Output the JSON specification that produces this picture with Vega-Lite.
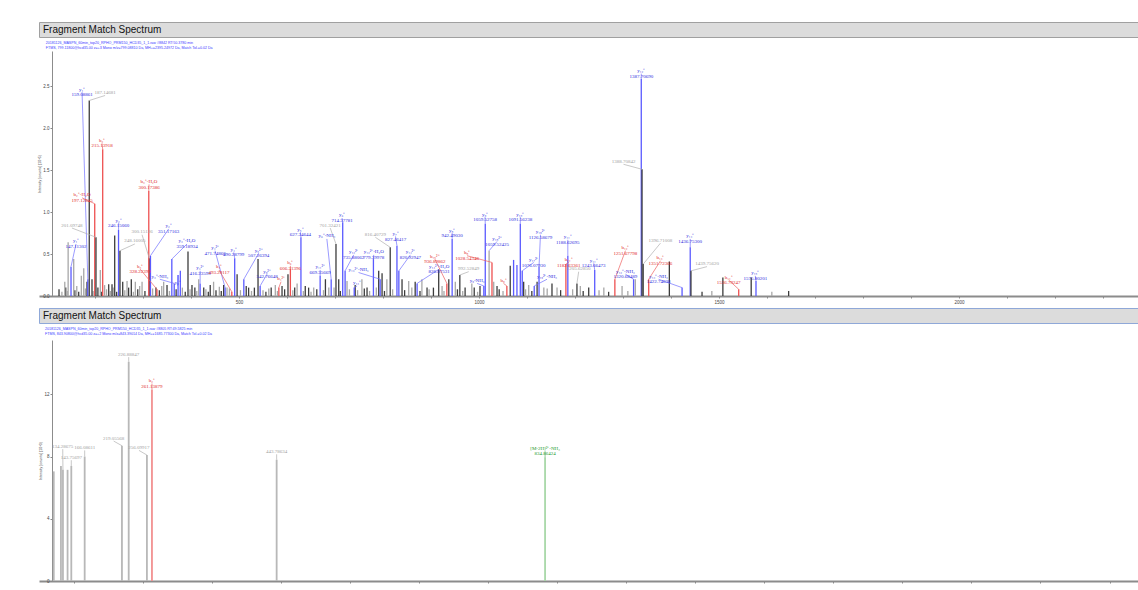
{
"$schema": "https://vega.github.io/schema/vega-lite/v6.json",
"padding": {"left": 37, "top": 21, "right": 0, "bottom": 0},
"background": "#ffffff",
"spacing": 3,
"config": {
  "view": {"stroke": null},
  "axis": {"grid": false, "labelFont": "Liberation Sans", "titleFont": "Liberation Sans", "titleFontWeight": "normal", "labelColor": "#444444", "titleColor": "#444444", "tickColor": "#888888", "domainColor": "#8c8c8c", "labelOverlap": false}
},
"vconcat": [
  {
    "width": 1101, "height": 15,
    "data": {"values": [{"t": "Fragment Match Spectrum"}]},
    "mark": {"type": "text", "align": "left", "baseline": "middle", "dx": 4, "dy": 0.5, "font": "Liberation Sans", "fontSize": 10, "color": "#111111"},
    "encoding": {
      "x": {"field": "t", "type": "nominal", "scale": {"type": "point", "padding": 0, "align": 0}, "axis": null},
      "text": {"field": "t"}
    },
    "view": {"fill": "#dcdcdc", "stroke": "#a0a0a0"}
  },
  {
    "width": 1101, "height": 245,
    "title": {"text": "20181126_MASPN_60min_top20_RPHO_PRM150_HCD35_1_1.raw #8842 RT:50.3780 min", "subtitle": "FTMS, 799.11800@hcd35.00 z=+3 Mono m/z=799.08810 Da, MH+=2395.24972 Da, Match Tol.=0.02 Da", "anchor": "start", "frame": "bounds", "dx": 8, "offset": 1, "font": "Liberation Sans", "subtitleFont": "Liberation Sans", "fontSize": 3.6, "subtitleFontSize": 3.6, "fontWeight": "normal", "color": "#3a3aff", "subtitleColor": "#3a3aff", "subtitlePadding": 1.5},
    "data": {"values": [
      {"mz":125,"h":0.08,"c":"k"},{"mz":131,"h":0.05,"c":"g"},{"mz":139,"h":0.1,"c":"k"},{"mz":142,"h":0.06,"c":"g"},{"mz":158,"h":0.07,"c":"k"},{"mz":162,"h":0.12,"c":"g"},{"mz":166,"h":0.05,"c":"k"},{"mz":180,"h":0.09,"c":"g"},{"mz":196,"h":0.06,"c":"g"},{"mz":206,"h":0.1,"c":"k"},{"mz":213,"h":0.05,"c":"k"},{"mz":224,"h":0.08,"c":"g"},{"mz":232,"h":0.06,"c":"g"},{"mz":238,"h":0.1,"c":"g"},{"mz":245,"h":0.05,"c":"k"},{"mz":262,"h":0.07,"c":"g"},{"mz":270,"h":0.1,"c":"k"},{"mz":280,"h":0.05,"c":"g"},{"mz":289,"h":0.08,"c":"k"},{"mz":293,"h":0.12,"c":"g"},{"mz":304,"h":0.06,"c":"k"},{"mz":320,"h":0.09,"c":"g"},{"mz":334,"h":0.07,"c":"k"},{"mz":339,"h":0.12,"c":"g"},{"mz":355,"h":0.06,"c":"g"},{"mz":369,"h":0.08,"c":"k"},{"mz":382,"h":0.1,"c":"g"},{"mz":388,"h":0.05,"c":"k"},{"mz":398,"h":0.08,"c":"g"},{"mz":408,"h":0.1,"c":"k"},{"mz":412,"h":0.06,"c":"g"},{"mz":431,"h":0.08,"c":"g"},{"mz":436,"h":0.05,"c":"k"},{"mz":452,"h":0.07,"c":"k"},{"mz":459,"h":0.11,"c":"g"},{"mz":463,"h":0.06,"c":"k"},{"mz":480,"h":0.09,"c":"g"},{"mz":503,"h":0.07,"c":"g"},{"mz":515,"h":0.12,"c":"k"},{"mz":526,"h":0.06,"c":"g"},{"mz":532,"h":0.1,"c":"k"},{"mz":550,"h":0.07,"c":"g"},{"mz":556,"h":0.05,"c":"k"},{"mz":562,"h":0.09,"c":"g"},{"mz":580,"h":0.06,"c":"g"},{"mz":595,"h":0.08,"c":"k"},{"mz":612,"h":0.07,"c":"g"},{"mz":616,"h":0.1,"c":"k"},{"mz":634,"h":0.06,"c":"g"},{"mz":645,"h":0.1,"c":"k"},{"mz":650,"h":0.05,"c":"g"},{"mz":662,"h":0.08,"c":"k"},{"mz":676,"h":0.07,"c":"g"},{"mz":698,"h":0.1,"c":"g"},{"mz":711,"h":0.06,"c":"k"},{"mz":730,"h":0.08,"c":"g"},{"mz":747,"h":0.07,"c":"g"},{"mz":761,"h":0.09,"c":"k"},{"mz":772,"h":0.06,"c":"g"},{"mz":786,"h":0.1,"c":"g"},{"mz":803,"h":0.06,"c":"k"},{"mz":820,"h":0.08,"c":"g"},{"mz":845,"h":0.07,"c":"k"},{"mz":860,"h":0.1,"c":"g"},{"mz":877,"h":0.06,"c":"k"},{"mz":896,"h":0.08,"c":"g"},{"mz":905,"h":0.1,"c":"k"},{"mz":927,"h":0.06,"c":"g"},{"mz":955,"h":0.08,"c":"k"},{"mz":966,"h":0.06,"c":"g"},{"mz":990,"h":0.1,"c":"k"},{"mz":997,"h":0.05,"c":"g"},{"mz":1042,"h":0.08,"c":"k"},{"mz":1050,"h":0.06,"c":"g"},{"mz":1097,"h":0.08,"c":"g"},{"mz":1110,"h":0.06,"c":"k"},{"mz":1142,"h":0.09,"c":"g"},{"mz":1170,"h":0.07,"c":"k"},{"mz":1195,"h":0.08,"c":"g"},{"mz":1217,"h":0.06,"c":"k"},{"mz":1250,"h":0.07,"c":"g"},{"mz":1270,"h":0.05,"c":"k"},{"mz":1310,"h":0.06,"c":"g"},
      {"mz":137,"h":0.17,"c":"g"},{"mz":144,"h":0.64,"c":"g"},{"mz":155.6,"h":0.44,"c":"g"},{"mz":171.5,"h":0.24,"c":"g"},{"mz":176.5,"h":0.33,"c":"g"},{"mz":183.3,"h":0.17,"c":"k"},{"mz":193.7,"h":0.2,"c":"k"},{"mz":211,"h":0.31,"c":"g"},{"mz":220,"h":0.13,"c":"g"},{"mz":228.5,"h":0.14,"c":"k"},{"mz":235.4,"h":0.14,"c":"k"},{"mz":241,"h":0.72,"c":"k"},{"mz":257.7,"h":0.17,"c":"k"},{"mz":266.7,"h":0.18,"c":"g"},{"mz":275.6,"h":0.2,"c":"k"},{"mz":284,"h":0.17,"c":"g"},{"mz":298,"h":0.17,"c":"g"},{"mz":327,"h":0.1,"c":"k"},{"mz":343,"h":0.17,"c":"g"},{"mz":350,"h":0.13,"c":"k"},{"mz":377.7,"h":0.3,"c":"b"},{"mz":393.7,"h":0.53,"c":"k"},{"mz":402,"h":0.13,"c":"k"},{"mz":416,"h":0.2,"c":"g"},{"mz":426.5,"h":0.1,"c":"k"},{"mz":440,"h":0.13,"c":"k"},{"mz":447,"h":0.17,"c":"g"},{"mz":468,"h":0.13,"c":"k"},{"mz":475,"h":0.1,"c":"g"},{"mz":496,"h":0.26,"c":"k"},{"mz":520,"h":0.1,"c":"k"},{"mz":539.6,"h":0.44,"c":"k"},{"mz":567,"h":0.1,"c":"k"},{"mz":575.6,"h":0.13,"c":"g"},{"mz":589.6,"h":0.12,"c":"k"},{"mz":602,"h":0.26,"c":"k"},{"mz":621,"h":0.15,"c":"g"},{"mz":638,"h":0.12,"c":"k"},{"mz":655.6,"h":0.1,"c":"g"},{"mz":680,"h":0.2,"c":"k"},{"mz":687,"h":0.1,"c":"g"},{"mz":707.7,"h":0.2,"c":"k"},{"mz":725,"h":0.18,"c":"g"},{"mz":742,"h":0.13,"c":"k"},{"mz":756,"h":0.2,"c":"g"},{"mz":766.7,"h":0.1,"c":"k"},{"mz":791,"h":0.3,"c":"k"},{"mz":798,"h":0.27,"c":"k"},{"mz":808,"h":0.2,"c":"g"},{"mz":839.6,"h":0.2,"c":"k"},{"mz":853.5,"h":0.18,"c":"g"},{"mz":867,"h":0.17,"c":"k"},{"mz":881,"h":0.2,"c":"g"},{"mz":891.7,"h":0.1,"c":"k"},{"mz":916,"h":0.32,"c":"k"},{"mz":923,"h":0.12,"c":"g"},{"mz":937,"h":0.2,"c":"k"},{"mz":950.6,"h":0.17,"c":"g"},{"mz":971,"h":0.1,"c":"k"},{"mz":985,"h":0.15,"c":"g"},{"mz":1002,"h":0.12,"c":"k"},{"mz":1030.6,"h":0.17,"c":"g"},{"mz":1037.5,"h":0.12,"c":"k"},{"mz":1065,"h":0.36,"c":"k"},{"mz":1072,"h":0.43,"c":"b"},{"mz":1079,"h":0.37,"c":"b"},{"mz":1093,"h":0.17,"c":"k"},{"mz":1103.5,"h":0.13,"c":"g"},{"mz":1121,"h":0.17,"c":"k"},{"mz":1135,"h":0.1,"c":"g"},{"mz":1152,"h":0.15,"c":"k"},{"mz":1162.5,"h":0.1,"c":"g"},{"mz":1211,"h":0.12,"c":"g"},{"mz":1228.5,"h":0.1,"c":"k"},{"mz":1260,"h":0.1,"c":"g"},{"mz":1298,"h":0.12,"c":"g"},{"mz":1325.6,"h":0.2,"c":"g"},{"mz":1396.5,"h":0.41,"c":"k"},{"mz":1464.6,"h":0.05,"c":"k"},{"mz":1485,"h":0.06,"c":"g"},{"mz":1508,"h":0.22,"c":"k"},{"mz":1567,"h":0.22,"c":"k"},{"mz":1610,"h":0.05,"c":"g"},{"mz":1645,"h":0.06,"c":"k"},
      {"mz":150,"h":0.35,"c":"b","lab":"y₁⁺\n147.11302","lx":160.4,"ly":0.62,"lc":"b"},
      {"mz":185,"h":0.2,"c":"b","lab":"y₁⁺\n159.08861","lx":173,"ly":2.43,"lc":"b"},
      {"mz":188,"h":2.33,"c":"k","lab":"187.14681","lx":221,"ly":2.39,"lc":"g"},
      {"mz":216,"h":1.75,"c":"r","lab":"b₂⁺\n215.13918","lx":214.6,"ly":1.82,"lc":"r"},
      {"mz":199.4,"h":1.1,"c":"r","lab":"b₂⁺-H₂O\n197.12845","lx":173,"ly":1.17,"lc":"r"},
      {"mz":202,"h":0.7,"c":"k","lab":"201.09748","lx":152,"ly":0.81,"lc":"g"},
      {"mz":313,"h":0.45,"c":"k","lab":"300.15126","lx":298,"ly":0.73,"lc":"g"},
      {"mz":312,"h":1.25,"c":"r","lab":"b₃⁺-H₂O\n300.17386","lx":312.5,"ly":1.33,"lc":"r"},
      {"mz":249,"h":0.79,"c":"b","lab":"y₂⁺\n246.15060","lx":249.4,"ly":0.87,"lc":"b"},
      {"mz":252,"h":0.54,"c":"k","lab":"248.16005","lx":283,"ly":0.62,"lc":"g"},
      {"mz":329,"h":0.08,"c":"r","lab":"b₃⁺\n328.22399","lx":294,"ly":0.32,"lc":"r"},
      {"mz":315.5,"h":0.48,"c":"b","lab":"y₂⁺\n351.17163","lx":353.5,"ly":0.8,"lc":"b"},
      {"mz":360,"h":0.44,"c":"b","lab":"y₃⁺-H₂O\n359.18934","lx":391.7,"ly":0.62,"lc":"b"},
      {"mz":419,"h":0.15,"c":"b","lab":"y₃²⁺\n416.23599","lx":419,"ly":0.3,"lc":"b"},
      {"mz":365,"h":0.15,"c":"b","lab":"y₃⁺-NH₃","lx":335,"ly":0.2,"lc":"b"},
      {"mz":373,"h":0.25,"c":"b","lab":"y₃⁺","lx":372,"ly":0.12,"lc":"b"},
      {"mz":471,"h":0.1,"c":"b","lab":"y₄²⁺\n471.74866","lx":450,"ly":0.54,"lc":"b"},
      {"mz":485,"h":0.05,"c":"r","lab":"b₄⁺\n493.29117","lx":458.3,"ly":0.31,"lc":"r"},
      {"mz":491,"h":0.45,"c":"b","lab":"y₄⁺\n490.28799","lx":489,"ly":0.52,"lc":"b"},
      {"mz":510,"h":0.2,"c":"b","lab":"y₅²⁺\n507.26394","lx":541,"ly":0.51,"lc":"b"},
      {"mz":544,"h":0.12,"c":"b","lab":"y₉²⁺\n542.76648","lx":558.3,"ly":0.26,"lc":"b"},
      {"mz":607,"h":0.32,"c":"r","lab":"b₆⁺\n606.31396","lx":607,"ly":0.36,"lc":"r"},
      {"mz":583,"h":0.1,"c":"r","lab":"b₄²⁺","lx":587.5,"ly":0.17,"lc":"r"},
      {"mz":629,"h":0.7,"c":"b","lab":"y₅⁺\n627.34644","lx":628,"ly":0.76,"lc":"b"},
      {"mz":702,"h":0.62,"c":"k","lab":"701.32421","lx":690,"ly":0.81,"lc":"g"},
      {"mz":692,"h":0.2,"c":"b","lab":"y₆⁺-NH₃","lx":683,"ly":0.68,"lc":"b"},
      {"mz":669,"h":0.24,"c":"b","lab":"y₁₁²⁺\n669.35669","lx":669,"ly":0.31,"lc":"b"},
      {"mz":716,"h":0.88,"c":"b","lab":"y₆⁺\n714.37781","lx":714.6,"ly":0.93,"lc":"b"},
      {"mz":721,"h":0.3,"c":"b","lab":"y₁₂²⁺\n735.88062","lx":739,"ly":0.49,"lc":"b"},
      {"mz":815,"h":0.58,"c":"k","lab":"816.40729","lx":784,"ly":0.7,"lc":"g"},
      {"mz":780,"h":0.44,"c":"b","lab":"y₁₃²⁺-H₂O\n779.39978","lx":780.6,"ly":0.49,"lc":"b"},
      {"mz":794,"h":0.2,"c":"b","lab":"y₁₃²⁺-NH₃","lx":749,"ly":0.28,"lc":"b"},
      {"mz":829,"h":0.6,"c":"b","lab":"y₇⁺\n827.46417","lx":826,"ly":0.71,"lc":"b"},
      {"mz":833,"h":0.3,"c":"b","lab":"y₁₄²⁺\n820.92947","lx":857,"ly":0.49,"lc":"b"},
      {"mz":740,"h":0.1,"c":"b","lab":"y₁₃⁺","lx":746,"ly":0.12,"lc":"b"},
      {"mz":871,"h":0.15,"c":"b","lab":"y₁₄²⁺-H₂O\n826.87531","lx":917,"ly":0.32,"lc":"b"},
      {"mz":933,"h":0.15,"c":"r","lab":"b₁₅²⁺\n936.89862","lx":908,"ly":0.44,"lc":"r"},
      {"mz":944,"h":0.68,"c":"b","lab":"y₈⁺\n942.49030","lx":944,"ly":0.75,"lc":"b"},
      {"mz":1027,"h":0.4,"c":"r","lab":"b₈⁺\n1028.54346","lx":975,"ly":0.48,"lc":"r"},
      {"mz":960,"h":0.25,"c":"k","lab":"992.52849","lx":978.5,"ly":0.29,"lc":"g"},
      {"mz":1010,"h":0.12,"c":"b","lab":"y₉-NH₃","lx":996,"ly":0.15,"lc":"b"},
      {"mz":1013,"h":0.86,"c":"b","lab":"y₉⁺\n1059.52758","lx":1012.5,"ly":0.94,"lc":"b"},
      {"mz":1021,"h":0.54,"c":"g","lab":"y₁₈²⁺\n1059.52425","lx":1037.5,"ly":0.65,"lc":"b"},
      {"mz":1058,"h":0.12,"c":"r","lab":"b₉⁺","lx":1051,"ly":0.15,"lc":"r"},
      {"mz":1086,"h":0.86,"c":"b","lab":"y₁₀⁺\n1091.56238","lx":1086,"ly":0.94,"lc":"b"},
      {"mz":1125,"h":0.35,"c":"b","lab":"y₁₉²⁺\n1126.58679","lx":1128,"ly":0.73,"lc":"b"},
      {"mz":1090,"h":0.3,"c":"b","lab":"y₁₇²⁺\n1076.07930","lx":1114,"ly":0.4,"lc":"b"},
      {"mz":1204,"h":0.15,"c":"k","lab":"1205.62850","lx":1207.6,"ly":0.29,"lc":"g"},
      {"mz":1115,"h":0.12,"c":"b","lab":"y₁₉²⁺-NH₃","lx":1141.7,"ly":0.2,"lc":"b"},
      {"mz":1185,"h":0.48,"c":"b","lab":"y₁₁⁺\n1188.62695","lx":1185,"ly":0.67,"lc":"b"},
      {"mz":1181,"h":0.38,"c":"r","lab":"b₁₁⁺\n1182.63361","lx":1187,"ly":0.4,"lc":"r"},
      {"mz":1241,"h":0.31,"c":"b","lab":"y₁₁⁺\n1243.66473","lx":1239,"ly":0.39,"lc":"b"},
      {"mz":1283,"h":0.2,"c":"r","lab":"b₁₂⁺\n1251.67798","lx":1305,"ly":0.54,"lc":"r"},
      {"mz":1322,"h":0.2,"c":"b","lab":"y₁₂⁺-NH₃\n1320.68489","lx":1305,"ly":0.26,"lc":"b"},
      {"mz":1338,"h":2.59,"c":"b","lab":"y₁₂⁺\n1387.70690","lx":1338,"ly":2.65,"lc":"b"},
      {"mz":1339.6,"h":1.51,"c":"k","lab":"1388.70842","lx":1301,"ly":1.57,"lc":"g"},
      {"mz":1342,"h":0.38,"c":"k","lab":"1396.71008","lx":1378,"ly":0.63,"lc":"g"},
      {"mz":1353.5,"h":0.2,"c":"r","lab":"b₁₃⁺\n1351.72366","lx":1378,"ly":0.42,"lc":"r"},
      {"mz":1423,"h":0.1,"c":"b","lab":"y₁₃⁺-NH₃\n1422.74638","lx":1374,"ly":0.2,"lc":"b"},
      {"mz":1440,"h":0.58,"c":"b","lab":"y₁₄⁺\n1436.75300","lx":1440,"ly":0.68,"lc":"b"},
      {"mz":1441.5,"h":0.3,"c":"k","lab":"1439.75620","lx":1475,"ly":0.35,"lc":"g"},
      {"mz":1541,"h":0.08,"c":"r","lab":"b₁₄⁺\n1536.79247","lx":1520,"ly":0.19,"lc":"r"},
      {"mz":1577,"h":0.18,"c":"b","lab":"y₁₅⁺\n1575.80201","lx":1575.6,"ly":0.24,"lc":"b"}
    ]},
    "resolve": {"scale": {"color": "independent"}},
    "layer": [
      {
        "mark": {"type": "rule", "strokeWidth": 1.3},
        "encoding": {
          "x": {"field": "mz", "type": "quantitative", "scale": {"domain": [83.3, 2377], "nice": false, "zero": false},
                "axis": {"title": null, "values": [200,300,400,500,600,700,800,900,1000,1100,1200,1300,1400,1500,1600,1700,1800,1900,2000,2100,2200,2300], "format": "d", "labelExpr": "datum.value % 500 == 0 ? datum.label : ''", "labelOverlap": false, "tickSize": 2, "labelPadding": 1, "labelFontSize": 4.5, "domainWidth": 2}},
          "y": {"field": "h", "type": "quantitative", "scale": {"domain": [0, 2.92], "nice": false},
                "axis": {"title": "Intensity [counts] (10^5)", "offset": -13, "titleFontSize": 3.6, "titlePadding": 1, "values": [0,0.5,1,1.5,2,2.5], "format": ".1f", "labelOverlap": false, "tickSize": 2, "labelPadding": 1, "labelFontSize": 4.5}},
          "y2": {"datum": 0},
          "color": {"field": "c", "type": "nominal", "scale": {"domain": ["k","g","b","r","n"], "range": ["#3c3c3c","#a8a8a8","#5a5aff","#ee5050","#55aa55"]}, "legend": null}
        }
      },
      {
        "transform": [{"filter": "datum.lab != null"}],
        "mark": {"type": "rule", "strokeWidth": 0.7},
        "encoding": {
          "x": {"field": "lx", "type": "quantitative", "axis": {"labelOverlap": false}},
          "y": {"field": "ly", "type": "quantitative", "axis": {"labelOverlap": false}},
          "x2": {"field": "mz"},
          "y2": {"field": "h"},
          "color": {"field": "lc", "type": "nominal", "scale": {"domain": ["g","b","r","n"], "range": ["#b0b0b0","#7070ff","#ee6060","#60b060"]}, "legend": null}
        }
      },
      {
        "transform": [{"filter": "datum.lab != null"}],
        "mark": {"type": "text", "lineBreak": "\n", "baseline": "bottom", "align": "center", "font": "Liberation Serif", "fontSize": 5, "lineHeight": 5.6, "dy": -0.5},
        "encoding": {
          "x": {"field": "lx", "type": "quantitative", "axis": {"labelOverlap": false}},
          "y": {"field": "ly", "type": "quantitative", "axis": {"labelOverlap": false}},
          "text": {"field": "lab"},
          "color": {"field": "lc", "type": "nominal", "scale": {"domain": ["g","b","r","n"], "range": ["#a0a0a0","#2b2bdd","#e02828","#22992a"]}, "legend": null}
        }
      }
    ]
  },
  {
    "width": 1101, "height": 15,
    "data": {"values": [{"t": "Fragment Match Spectrum"}]},
    "mark": {"type": "text", "align": "left", "baseline": "middle", "dx": 4, "dy": 0.5, "font": "Liberation Sans", "fontSize": 10, "color": "#111111"},
    "encoding": {
      "x": {"field": "t", "type": "nominal", "scale": {"type": "point", "padding": 0, "align": 0}, "axis": null},
      "text": {"field": "t"}
    },
    "view": {"fill": "#dcdcdc", "stroke": "#8fa8d8"}
  },
  {
    "width": 1101, "height": 241,
    "title": {"text": "20181126_MASPN_60min_top20_RPHO_PRM150_HCD35_1_1.raw #8805 RT:49.5825 min", "subtitle": "FTMS, 843.90800@hcd35.00 z=+2 Mono m/z=843.39014 Da, MH+=1685.77300 Da, Match Tol.=0.02 Da", "anchor": "start", "frame": "bounds", "dx": 6, "offset": 4, "font": "Liberation Sans", "subtitleFont": "Liberation Sans", "fontSize": 3.6, "subtitleFontSize": 3.6, "fontWeight": "normal", "color": "#3a3aff", "subtitleColor": "#3a3aff", "subtitlePadding": 1.5},
    "data": {"values": [
      {"mz":120,"h":7.05,"c":"g"},
      {"mz":130.4,"h":7.4,"c":"g"},
      {"mz":133.3,"h":7.15,"c":"g","lab":"134.28675","lx":133,"ly":8.48,"lc":"g"},
      {"mz":140,"h":7.15,"c":"g"},
      {"mz":145.4,"h":7.4,"c":"g","lab":"143.75697","lx":145.4,"ly":7.77,"lc":"g"},
      {"mz":164.8,"h":8.0,"c":"g","lab":"166.08611","lx":164.8,"ly":8.4,"lc":"g"},
      {"mz":218.8,"h":8.7,"c":"g","lab":"219.05568","lx":206.8,"ly":9.0,"lc":"g"},
      {"mz":228.6,"h":14.1,"c":"g","lab":"226.88847","lx":228.6,"ly":14.4,"lc":"g"},
      {"mz":255,"h":8.1,"c":"g","lab":"256.09917","lx":243.5,"ly":8.4,"lc":"g"},
      {"mz":262.3,"h":12.3,"c":"r","lab":"b₂⁺\n261.13879","lx":262.3,"ly":12.7,"lc":"r"},
      {"mz":443,"h":7.8,"c":"g","lab":"443.78634","lx":443,"ly":8.15,"lc":"g"},
      {"mz":832,"h":7.96,"c":"n","lab":"[M-2H]²⁺-NH₃\n834.86424","lx":832,"ly":8.35,"lc":"n"}
    ]},
    "resolve": {"scale": {"color": "independent"}},
    "layer": [
      {
        "mark": {"type": "rule", "strokeWidth": 1.8},
        "encoding": {
          "x": {"field": "mz", "type": "quantitative", "scale": {"domain": [98.6, 1694.2], "nice": false, "zero": false},
                "axis": {"title": null, "values": [150,200,250,300,350,400,450,500,550,600,650,700,750,800,850,900,950,1000,1050,1100,1150,1200,1250,1300,1350,1400,1450,1500,1550,1600,1650], "format": "d", "labelExpr": "datum.value % 200 == 0 ? datum.label : ''", "labelOverlap": false, "tickSize": 2, "labelPadding": 0, "labelFontSize": 4.5, "domainWidth": 2}},
          "y": {"field": "h", "type": "quantitative", "scale": {"domain": [0, 15.5], "nice": false},
                "axis": {"title": "Intensity [counts] (10^3)", "offset": -13, "titleFontSize": 3.6, "titlePadding": 1, "values": [0,2,4,6,8,10,12,14], "format": "d", "labelOverlap": false, "tickSize": 2, "labelPadding": 1, "labelFontSize": 4.5}},
          "y2": {"datum": 0},
          "color": {"field": "c", "type": "nominal", "scale": {"domain": ["g","r","n"], "range": ["#b8b8b8","#f29090","#a8d8a8"]}, "legend": null}
        }
      },
      {
        "transform": [{"filter": "datum.lab != null"}],
        "mark": {"type": "rule", "strokeWidth": 0.7},
        "encoding": {
          "x": {"field": "lx", "type": "quantitative", "axis": {"labelOverlap": false}},
          "y": {"field": "ly", "type": "quantitative", "axis": {"labelOverlap": false}},
          "x2": {"field": "mz"},
          "y2": {"field": "h"},
          "color": {"field": "lc", "type": "nominal", "scale": {"domain": ["g","r","n"], "range": ["#b0b0b0","#ee6060","#60b060"]}, "legend": null}
        }
      },
      {
        "transform": [{"filter": "datum.lab != null"}],
        "mark": {"type": "text", "lineBreak": "\n", "baseline": "bottom", "align": "center", "font": "Liberation Serif", "fontSize": 5, "lineHeight": 5.6, "dy": -0.5},
        "encoding": {
          "x": {"field": "lx", "type": "quantitative", "axis": {"labelOverlap": false}},
          "y": {"field": "ly", "type": "quantitative", "axis": {"labelOverlap": false}},
          "text": {"field": "lab"},
          "color": {"field": "lc", "type": "nominal", "scale": {"domain": ["g","r","n"], "range": ["#a0a0a0","#e02828","#22992a"]}, "legend": null}
        }
      }
    ]
  }
]
}
